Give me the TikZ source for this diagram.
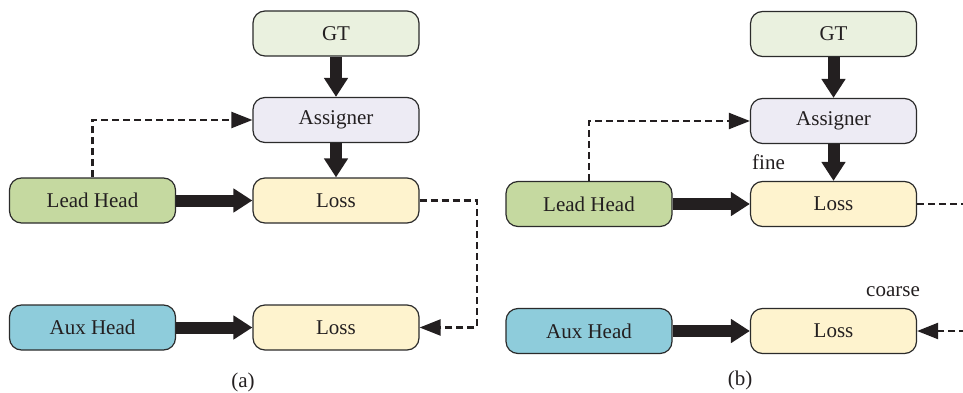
\documentclass[tikz,border=0pt]{standalone}
\usepackage{fontspec}
\setmainfont{Liberation Serif}
\usetikzlibrary{arrows.meta}

\definecolor{gtfill}{HTML}{EAF1DF}
\definecolor{asfill}{HTML}{EDEBF4}
\definecolor{lossfill}{HTML}{FEF3CE}
\definecolor{leadfill}{HTML}{C5D9A0}
\definecolor{auxfill}{HTML}{8ECCDB}
\definecolor{edge}{HTML}{2B2B2B}
\definecolor{ink}{HTML}{231F20}

\tikzset{
  box/.style={draw=edge, line width=1.2pt, rounded corners=12pt,
    minimum width=166pt, minimum height=45pt, inner sep=0pt,
    font=\fontsize{21}{25}\selectfont, text=ink},
  label text/.style={font=\fontsize{21}{25}\selectfont, text=ink, inner sep=0pt},
  bigarrow/.style={draw=ink, line width=12pt, line cap=butt,
    -{Triangle[width=23pt,length=19pt]}},
  dasharrow/.style={draw=ink, line width=2.3pt, dash pattern=on 7pt off 4pt,
    -{Triangle[width=16pt,length=21pt]}},
  dashline/.style={draw=ink, line width=2.3pt, dash pattern=on 7pt off 4pt}
}

\begin{document}
\begin{tikzpicture}[x=1pt,y=-1pt]
\useasboundingbox (0,0) rectangle (963,393);

% ---- panel (a)
\node[box, fill=gtfill]   (GTa)    at (336,33.5)  {GT};
\node[box, fill=asfill]   (ASa)    at (336,120)   {Assigner};
\node[box, fill=lossfill] (LossA1) at (336,200.5) {Loss};
\node[box, fill=leadfill] (LeadA)  at (92.5,200.5){Lead Head};
\node[box, fill=auxfill]  (AuxA)   at (92.5,327.5){Aux Head};
\node[box, fill=lossfill] (LossA2) at (336,327.5) {Loss};
\node[label text] (capA) at (243,382) {(a)};

\draw[bigarrow] (GTa) -- (ASa);
\draw[bigarrow] (ASa) -- (LossA1);
\draw[bigarrow] (LeadA) -- (LossA1);
\draw[bigarrow] (AuxA) -- (LossA2);
\draw[dasharrow] (LeadA.north) |- (ASa.west);
\coordinate (turnA) at (477,265);
\draw[dasharrow] (LossA1.east) -| (turnA) |- (LossA2.east);

% ---- panel (b)
\node[box, fill=gtfill]   (GTb)    at (833.5,34)  {GT};
\node[box, fill=asfill]   (ASb)    at (833.5,121) {Assigner};
\node[box, fill=lossfill] (LossB1) at (833.5,204) {Loss};
\node[box, fill=leadfill] (LeadB)  at (589,204)   {Lead Head};
\node[box, fill=auxfill]  (AuxB)   at (589,331)   {Aux Head};
\node[box, fill=lossfill] (LossB2) at (833.5,331) {Loss};
\node[label text] (capB) at (740,380) {(b)};
\node[label text, anchor=west] (fineB) at (752,162) {fine};
\node[label text, anchor=west] (coarseB) at (866,292) {coarse};

\draw[bigarrow] (GTb) -- (ASb);
\draw[bigarrow] (ASb) -- (LossB1);
\draw[bigarrow] (LeadB) -- (LossB1);
\draw[bigarrow] (AuxB) -- (LossB2);
\draw[dasharrow] (LeadB.north) |- (ASb.west);
\coordinate (rimB) at (966,0);
\draw[dashline] (LossB1.east) -- (LossB1.east -| rimB);
\draw[dasharrow] (LossB2.east -| rimB) -- (LossB2.east);
\end{tikzpicture}
\end{document}
